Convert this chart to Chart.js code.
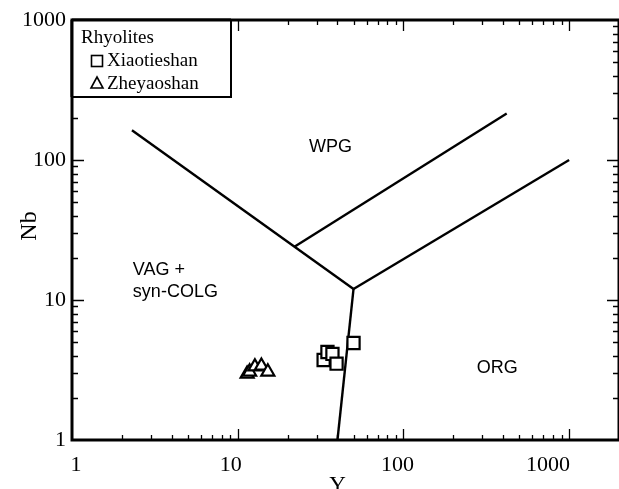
<!DOCTYPE html>
<html><head><meta charset="utf-8">
<script src="https://cdn.jsdelivr.net/npm/chart.js@4/dist/chart.umd.min.js"></script>
<style>html,body{margin:0;padding:0;background:#fff}canvas{display:block}</style>
</head><body>
<canvas id="c" width="619" height="489"></canvas>
<script>
// ---- data ----
const xiaotieshanY  = [33.0, 34.8, 37.3, 39.5, 50.0];
const xiaotieshanNb = [3.73, 4.25, 4.12, 3.51, 4.93];
const zheyaoshanY   = [11.4, 11.8, 12.7, 13.9, 15.2];
const zheyaoshanNb  = [2.96, 3.07, 3.34, 3.38, 3.07];
// field boundaries (Y, Nb)
const lineVagWpgY = [2.3, 50];   const lineVagWpgNb = [163, 12];
const lineVagOrgY = [50, 40];    const lineVagOrgNb = [12, 1];
const lineWpgOrgY = [50, 1000];  const lineWpgOrgNb = [12, 100];
const lineUpperY  = [22, 420];   const lineUpperNb  = [24, 215];
const xTickValues = [1, 10, 100, 1000];
const yTickValues = [1, 10, 100, 1000];
const fieldNames = ['WPG', 'VAG +', 'syn-COLG', 'ORG'];
const fieldAnchorY  = [36.3, 2.33, 2.33, 368];
const fieldAnchorNb = [124, 16.4, 11.4, 3.27];
const legendTitle = 'Rhyolites';
const seriesNames = ['Xiaotieshan', 'Zheyaoshan'];

const pts = (xs, ys) => xs.map((x, i) => ({x, y: ys[i]}));
const boundary = (xs, ys) => ({
  data: pts(xs, ys), showLine: true, borderColor: '#000', borderWidth: 2.4,
  pointRadius: 0, fill: false, order: 2
});

const serif = '"Liberation Serif", "Times New Roman", serif';
const sans = '"Liberation Sans", Arial, sans-serif';
const xLabelShift = {1: 4, 10: -7, 100: -6, 1000: -21};

const decor = {
  id: 'decor',
  afterDatasetsDraw(chart) {
    const ctx = chart.ctx, a = chart.chartArea;
    const xs = chart.scales.x, ys = chart.scales.y;
    ctx.save();
    // ticks inward on all sides
    ctx.strokeStyle = '#000'; ctx.lineWidth = 1.3;
    const logTicks = (min, max) => {
      const out = [];
      for (let d = 1; d <= 1000; d *= 10)
        for (let m = 1; m <= 9; m++) { const v = d * m; if (v > min && v < max * 0.999) out.push({v, major: m === 1}); }
      return out;
    };
    logTicks(xs.min, xs.max).forEach(t => {
      const p = Math.round(xs.getPixelForValue(t.v)) + 0.5, L = t.major ? 11 : 5;
      ctx.beginPath(); ctx.moveTo(p, a.bottom); ctx.lineTo(p, a.bottom - L);
      ctx.moveTo(p, a.top); ctx.lineTo(p, a.top + L); ctx.stroke();
    });
    logTicks(ys.min, ys.max).forEach(t => {
      const p = Math.round(ys.getPixelForValue(t.v)) + 0.5, L = t.major ? 12 : 6;
      ctx.beginPath(); ctx.moveTo(a.left, p); ctx.lineTo(a.left + L, p);
      ctx.moveTo(a.right, p); ctx.lineTo(a.right - L, p); ctx.stroke();
    });
    // frame
    ctx.lineWidth = 3;
    ctx.strokeRect(a.left, a.top, a.right - a.left, a.bottom - a.top);
    // x tick labels
    ctx.fillStyle = '#000';
    ctx.font = '22px ' + serif; ctx.textAlign = 'center'; ctx.textBaseline = 'alphabetic';
    xTickValues.forEach(v => {
      ctx.fillText(String(v), xs.getPixelForValue(v) + (xLabelShift[v] || 0), a.bottom + 31);
    });
    // field labels
    ctx.font = '18px ' + sans; ctx.textBaseline = 'middle';
    fieldNames.forEach((n, i) => {
      ctx.textAlign = (n === 'WPG' || n === 'ORG') ? 'center' : 'left';
      ctx.fillText(n, xs.getPixelForValue(fieldAnchorY[i]), ys.getPixelForValue(fieldAnchorNb[i]));
    });
    // legend box
    const lx = a.left, ly = a.top, lw = 159, lh = 77;
    ctx.fillStyle = '#fff'; ctx.fillRect(lx, ly, lw, lh);
    ctx.strokeStyle = '#000';
    ctx.lineWidth = 2; ctx.strokeRect(lx, ly, lw, lh);
    ctx.lineWidth = 3; ctx.beginPath(); ctx.moveTo(lx, ly); ctx.lineTo(lx + lw, ly); ctx.moveTo(lx, ly); ctx.lineTo(lx, ly + lh); ctx.stroke();
    ctx.fillStyle = '#000'; ctx.font = '19px ' + serif; ctx.textAlign = 'left'; ctx.textBaseline = 'alphabetic';
    ctx.fillText(legendTitle, lx + 9, ly + 23);
    ctx.fillText(seriesNames[0], lx + 35, ly + 46);
    ctx.fillText(seriesNames[1], lx + 35, ly + 69);
    ctx.lineWidth = 1.6;
    ctx.strokeRect(lx + 19.5, ly + 35.5, 11, 11);
    ctx.beginPath(); ctx.moveTo(lx + 25, ly + 57); ctx.lineTo(lx + 31, ly + 68); ctx.lineTo(lx + 19, ly + 68); ctx.closePath(); ctx.stroke();
    // axis titles
    ctx.font = '23px ' + serif; ctx.textAlign = 'center'; ctx.textBaseline = 'alphabetic';
    ctx.fillText('Y', xs.getPixelForValue(40), 492);
    ctx.font = '24px ' + serif;
    ctx.save(); ctx.translate(36, 226); ctx.rotate(-Math.PI / 2);
    ctx.fillText('Nb', 0, 0); ctx.restore();
    ctx.restore();
  }
};

new Chart(document.getElementById('c'), {
  type: 'scatter',
  data: {
    datasets: [
      { label: seriesNames[0], data: pts(xiaotieshanY, xiaotieshanNb), pointStyle: 'rect', pointRadius: 8.6,
        backgroundColor: '#fff', borderColor: '#000', borderWidth: 2.2, order: 1 },
      { label: seriesNames[1], data: pts(zheyaoshanY, zheyaoshanNb), pointStyle: 'triangle', pointRadius: 7.5,
        backgroundColor: '#fff', borderColor: '#000', borderWidth: 2.2, order: 1 },
      boundary(lineVagWpgY, lineVagWpgNb),
      boundary(lineVagOrgY, lineVagOrgNb),
      boundary(lineWpgOrgY, lineWpgOrgNb),
      boundary(lineUpperY, lineUpperNb)
    ]
  },
  options: {
    responsive: false, animation: false, devicePixelRatio: 1,
    layout: { autoPadding: false, padding: { top: 20, right: -1, left: 0, bottom: 0 } },
    plugins: { legend: { display: false }, tooltip: { enabled: false } },
    scales: {
      x: {
        type: 'logarithmic', min: 1, max: 2000,
        grid: { display: false, drawTicks: false }, border: { display: false },
        afterBuildTicks: s => { s.ticks = xTickValues.map(v => ({value: v})); },
        afterFit: s => { s.height = 49; s.paddingLeft = 0; s.paddingRight = 0; },
        ticks: { display: false }
      },
      y: {
        type: 'logarithmic', min: 1, max: 1000,
        grid: { display: false, drawTicks: false }, border: { display: false },
        afterBuildTicks: s => { s.ticks = yTickValues.map(v => ({value: v})); },
        afterFit: s => { s.width = 72; },
        ticks: { autoSkip: false, color: '#000', padding: 6, font: { family: serif, size: 22 }, callback: v => String(v) }
      }
    }
  },
  plugins: [decor]
});
</script>
</body></html>
